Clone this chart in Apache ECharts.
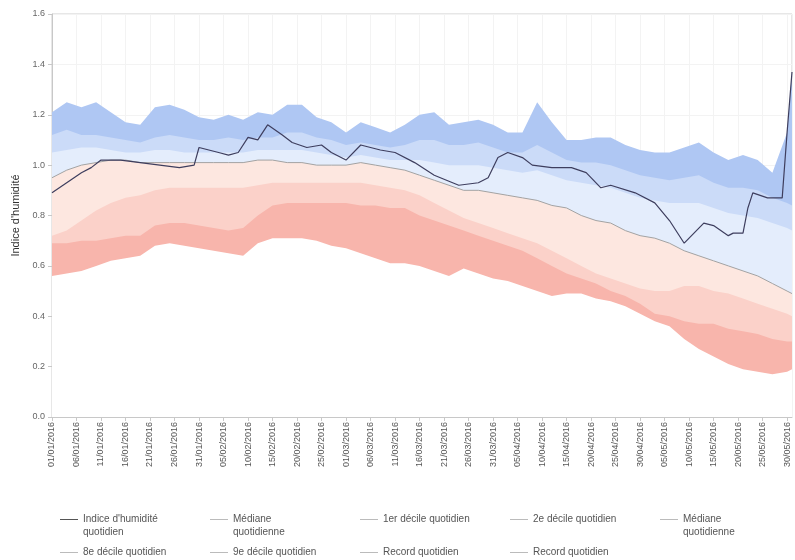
<!DOCTYPE html>
<html>
<head>
<meta charset="utf-8">
<title>Indice d'humidité</title>
<script src="https://cdn.jsdelivr.net/npm/echarts@6/dist/echarts.min.js"></script>
<style>
  html, body { margin: 0; padding: 0; background: #fff; }
  #chart { width: 795px; height: 560px; }
</style>
</head>
<body>
<div id="chart"></div>
<script>
  // jours depuis le 01/01/2016 (échantillons)
  const bandDays = [0, 3, 6, 9, 12, 15, 18, 21, 24, 27, 30, 33, 36, 39, 42, 45, 48, 51, 54, 57,
    60, 63, 66, 69, 72, 75, 78, 81, 84, 87, 90, 93, 96, 99, 102, 105, 108, 111, 114, 117,
    120, 123, 126, 129, 132, 135, 138, 141, 144, 147, 150, 151];

  const recordMax = [1.21, 1.25, 1.23, 1.25, 1.21, 1.17, 1.16, 1.23, 1.24, 1.22, 1.19, 1.18, 1.20, 1.18, 1.21, 1.20, 1.24, 1.24, 1.19, 1.17,
    1.13, 1.17, 1.15, 1.13, 1.16, 1.20, 1.21, 1.16, 1.17, 1.18, 1.16, 1.13, 1.13, 1.25, 1.17, 1.10, 1.10, 1.11, 1.11, 1.08,
    1.06, 1.05, 1.05, 1.07, 1.09, 1.05, 1.02, 1.04, 1.02, 0.97, 1.13, 1.37];
  const decile9 = [1.12, 1.14, 1.12, 1.12, 1.11, 1.10, 1.09, 1.11, 1.12, 1.11, 1.10, 1.10, 1.11, 1.10, 1.11, 1.11, 1.13, 1.13, 1.11, 1.10,
    1.08, 1.09, 1.08, 1.07, 1.08, 1.10, 1.10, 1.08, 1.08, 1.09, 1.07, 1.05, 1.05, 1.08, 1.05, 1.02, 1.01, 1.01, 1.00, 0.98,
    0.96, 0.95, 0.94, 0.95, 0.96, 0.93, 0.91, 0.91, 0.90, 0.87, 0.85, 0.84];
  const decile8 = [1.05, 1.06, 1.07, 1.07, 1.06, 1.05, 1.05, 1.06, 1.06, 1.05, 1.05, 1.05, 1.05, 1.05, 1.06, 1.06, 1.06, 1.06, 1.05, 1.04,
    1.03, 1.04, 1.03, 1.02, 1.02, 1.02, 1.01, 1.00, 1.00, 1.00, 0.99, 0.98, 0.97, 0.98, 0.96, 0.94, 0.93, 0.92, 0.91, 0.89,
    0.87, 0.86, 0.85, 0.85, 0.85, 0.83, 0.81, 0.80, 0.79, 0.77, 0.75, 0.74];
  const mediane = [0.95, 0.98, 1.00, 1.01, 1.02, 1.02, 1.01, 1.01, 1.01, 1.01, 1.01, 1.01, 1.01, 1.01, 1.02, 1.02, 1.01, 1.01, 1.00, 1.00,
    1.00, 1.01, 1.00, 0.99, 0.98, 0.96, 0.94, 0.92, 0.90, 0.90, 0.89, 0.88, 0.87, 0.86, 0.84, 0.83, 0.80, 0.78, 0.77, 0.74,
    0.72, 0.71, 0.69, 0.66, 0.64, 0.62, 0.60, 0.58, 0.56, 0.53, 0.50, 0.49];
  const decile2 = [0.72, 0.74, 0.78, 0.82, 0.85, 0.87, 0.88, 0.90, 0.91, 0.91, 0.91, 0.91, 0.91, 0.91, 0.92, 0.93, 0.93, 0.93, 0.93, 0.93,
    0.93, 0.93, 0.92, 0.91, 0.90, 0.88, 0.85, 0.82, 0.79, 0.77, 0.75, 0.73, 0.71, 0.69, 0.66, 0.63, 0.60, 0.57, 0.55, 0.53,
    0.51, 0.50, 0.50, 0.52, 0.52, 0.50, 0.49, 0.47, 0.45, 0.43, 0.41, 0.40];
  const decile1 = [0.69, 0.69, 0.70, 0.70, 0.71, 0.72, 0.72, 0.76, 0.77, 0.77, 0.76, 0.75, 0.74, 0.75, 0.80, 0.84, 0.85, 0.85, 0.85, 0.85,
    0.85, 0.84, 0.84, 0.83, 0.83, 0.80, 0.78, 0.76, 0.74, 0.72, 0.70, 0.68, 0.66, 0.63, 0.60, 0.57, 0.55, 0.53, 0.50, 0.48,
    0.45, 0.41, 0.40, 0.38, 0.37, 0.37, 0.35, 0.34, 0.33, 0.31, 0.30, 0.30];
  const recordMin = [0.56, 0.57, 0.58, 0.60, 0.62, 0.63, 0.64, 0.68, 0.69, 0.68, 0.67, 0.66, 0.65, 0.64, 0.69, 0.71, 0.71, 0.71, 0.70, 0.68,
    0.67, 0.65, 0.63, 0.61, 0.61, 0.60, 0.58, 0.56, 0.59, 0.57, 0.55, 0.54, 0.52, 0.50, 0.48, 0.49, 0.49, 0.47, 0.46, 0.44,
    0.41, 0.38, 0.36, 0.31, 0.27, 0.24, 0.21, 0.19, 0.18, 0.17, 0.18, 0.19];

  // indice d'humidité 2016
  const obsDays = [0, 3, 6, 8, 10, 14, 18, 22, 26, 29, 30, 34, 36, 38, 40, 42, 44, 47, 49, 52,
    55, 57, 60, 63, 67, 70, 74, 78, 83, 87, 89, 91, 93, 96, 98, 102, 106, 109, 112, 114,
    119, 123, 126, 129, 131, 133, 135, 138, 139, 141, 142, 143, 146, 149, 150, 151];
  const obsValues = [0.89, 0.93, 0.97, 0.99, 1.02, 1.02, 1.01, 1.00, 0.99, 1.00, 1.07, 1.05, 1.04, 1.05, 1.11, 1.10, 1.16, 1.12, 1.09, 1.07,
    1.08, 1.05, 1.02, 1.08, 1.06, 1.05, 1.01, 0.96, 0.92, 0.93, 0.95, 1.03, 1.05, 1.03, 1.00, 0.99, 0.99, 0.97, 0.91, 0.92,
    0.89, 0.85, 0.78, 0.69, 0.73, 0.77, 0.76, 0.72, 0.73, 0.73, 0.83, 0.89, 0.87, 0.87, 1.13, 1.37];

  const xTickLabels = ['01/01/2016', '06/01/2016', '11/01/2016', '16/01/2016', '21/01/2016', '26/01/2016', '31/01/2016',
    '05/02/2016', '10/02/2016', '15/02/2016', '20/02/2016', '25/02/2016', '01/03/2016', '06/03/2016', '11/03/2016',
    '16/03/2016', '21/03/2016', '26/03/2016', '31/03/2016', '05/04/2016', '10/04/2016', '15/04/2016', '20/04/2016',
    '25/04/2016', '30/04/2016', '05/05/2016', '10/05/2016', '15/05/2016', '20/05/2016', '25/05/2016', '30/05/2016'];

  // libellés de légende (une ligne vide en tête pour aligner le trait sur la 1re ligne)
  const legendText = {
    "Indice d'humidité quotidien": " \nIndice d'humidité\nquotidien",
    'Médiane quotidienne': ' \nMédiane\nquotidienne',
    '1er décile quotidien': '1er décile quotidien',
    '2e décile quotidien': '2e décile quotidien',
    'Médiane quotidienne\u200b': ' \nMédiane\nquotidienne',
    '8e décile quotidien': '8e décile quotidien',
    '9e décile quotidien': '9e décile quotidien',
    'Record quotidien': 'Record quotidien',
    'Record quotidien\u200b': 'Record quotidien'
  };

  const chart = echarts.init(document.getElementById('chart'));

  function pairs(days, values) {
    return days.map((d, i) => [d, values[i]]);
  }

  // bandes superposées, de la plus haute à la plus basse (remplissages opaques)
  const bands = [
    ['Record quotidien', recordMax, '#afc7f3'],
    ['9e décile quotidien', decile9, '#cbdbf8'],
    ['8e décile quotidien', decile8, '#e4edfc'],
    ['Médiane quotidienne\u200b', mediane, '#fde7e0'],
    ['2e décile quotidien', decile2, '#fbd1c9'],
    ['1er décile quotidien', decile1, '#f8b5ac'],
    ['Record quotidien\u200b', recordMin, '#ffffff']
  ];

  const series = bands.map(b => ({
    name: b[0],
    type: 'line',
    data: pairs(bandDays, b[1]),
    symbol: 'none',
    silent: true,
    color: b[2],
    lineStyle: { width: 0 },
    areaStyle: { color: b[2], opacity: 1 }
  }));

  series.push({
    name: 'Médiane quotidienne',
    type: 'line',
    data: pairs(bandDays, mediane),
    symbol: 'none',
    color: '#a3a3a3',
    lineStyle: { width: 1, color: '#a3a3a3' }
  });
  series.push({
    name: "Indice d'humidité quotidien",
    type: 'line',
    data: pairs(obsDays, obsValues),
    symbol: 'none',
    color: '#3e3e5e',
    lineStyle: { width: 1.2, color: '#3e3e5e' }
  });

  const legendBase = {
    left: 60,
    width: 745,
    padding: 0,
    itemGap: 10,
    itemWidth: 18,
    itemHeight: 1,
    icon: 'rect',
    selectedMode: false,
    textStyle: { fontSize: 10, color: '#555', lineHeight: 13, width: 117 },
    formatter: name => legendText[name]
  };

  chart.setOption({
    animation: false,
    textStyle: { fontFamily: 'Liberation Sans, Arial, sans-serif' },
    grid: { left: 52, right: 3, top: 14, bottom: 143, show: true, borderColor: '#cfcfcf', borderWidth: 1 },
    legend: [
      Object.assign({}, legendBase, {
        top: 500,
        data: [
          { name: "Indice d'humidité quotidien", itemStyle: { color: '#555' } },
          { name: 'Médiane quotidienne', itemStyle: { color: '#bbb' } },
          { name: '1er décile quotidien', itemStyle: { color: '#bbb' } },
          { name: '2e décile quotidien', itemStyle: { color: '#bbb' } },
          { name: 'Médiane quotidienne\u200b', itemStyle: { color: '#bbb' } }
        ]
      }),
      Object.assign({}, legendBase, {
        top: 546,
        data: [
          { name: '8e décile quotidien', itemStyle: { color: '#bbb' } },
          { name: '9e décile quotidien', itemStyle: { color: '#bbb' } },
          { name: 'Record quotidien', itemStyle: { color: '#bbb' } },
          { name: 'Record quotidien\u200b', itemStyle: { color: '#bbb' } }
        ]
      })
    ],
    xAxis: {
      type: 'value',
      min: 0,
      max: 151,
      interval: 5,
      axisLine: { show: true, lineStyle: { color: '#c8c8c8' } },
      axisTick: { show: true, length: 4, lineStyle: { color: '#c8c8c8' } },
      axisLabel: {
        rotate: 90,
        fontSize: 9,
        color: '#555',
        margin: 5,
        showMaxLabel: false,
        formatter: v => xTickLabels[v / 5] || ''
      },
      splitLine: { show: true, lineStyle: { color: '#f3f3f3' } }
    },
    yAxis: {
      type: 'value',
      min: 0,
      max: 1.6,
      interval: 0.2,
      name: "Indice d'humidité",
      nameLocation: 'middle',
      nameGap: 27,
      nameTextStyle: { fontSize: 11, color: '#333' },
      axisLine: { show: true, lineStyle: { color: '#c8c8c8' } },
      axisTick: { show: true, length: 4, lineStyle: { color: '#c8c8c8' } },
      axisLabel: { fontSize: 9, color: '#666', margin: 7, formatter: v => v.toFixed(1) },
      splitLine: { show: true, lineStyle: { color: '#f3f3f3' } }
    },
    series: series
  });
</script>
</body>
</html>
